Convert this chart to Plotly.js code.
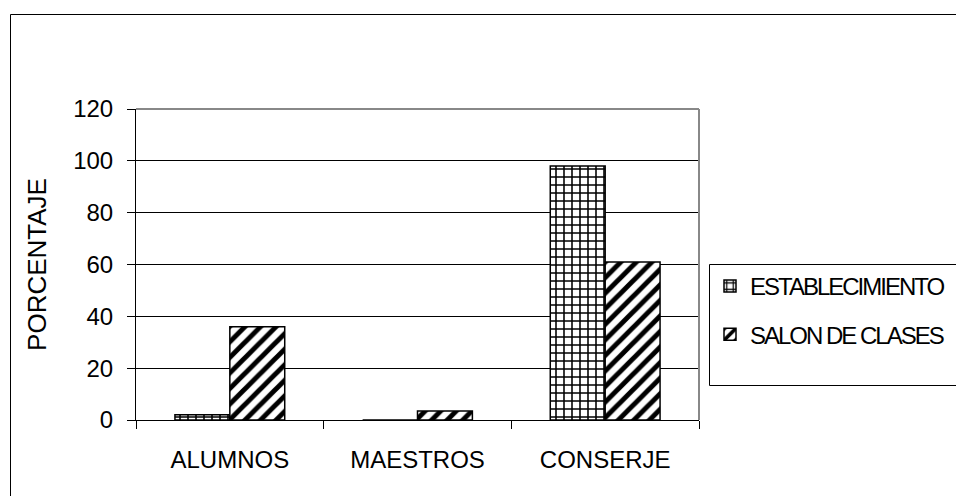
<!DOCTYPE html>
<html><head><meta charset="utf-8">
<script src="https://cdn.plot.ly/plotly-3.0.1.min.js"></script>
<style>html,body{margin:0;padding:0;background:#fff;}#chart{width:956px;height:496px;}
#chart .legendtext{letter-spacing:-2px;}</style>
</head><body><div id="chart"></div>
<script>
const categories = ['ALUMNOS', 'MAESTROS', 'CONSERJE'];
const establecimiento = [2, 0, 98];
const salonDeClases = [36, 3.5, 61];
const seriesNames = ['ESTABLECIMIENTO', 'SALON DE CLASES'];
const yTicks = [0, 20, 40, 60, 80, 100, 120];

const W = 956, H = 496;
const L = 136, R = 257, T = 109, B = 76;
const pw = W - L - R, ph = H - T - B;
const px = x => (x - L) / pw;
const py = y => 1 - (y - T) / ph;
const font = 'Liberation Sans, Arial, sans-serif';
const FS = 24;

const traces = [
  {type: 'bar', x: categories, y: establecimiento, name: seriesNames[0], legendgroup: 'a',
   marker: {color: '#fff', line: {color: '#000', width: 1.5},
     pattern: {shape: '+', fgcolor: '#000', bgcolor: '#fff', size: 8, solidity: 0.35}}},
  {type: 'bar', x: categories, y: salonDeClases, name: seriesNames[1], legendgroup: 'b',
   marker: {color: '#fff', line: {color: '#000', width: 1.5},
     pattern: {shape: '/', fgcolor: '#000', bgcolor: '#fff', size: 11, solidity: 0.45}}}
];

const layout = {
  width: W, height: H,
  margin: {l: L, r: R, t: T, b: B, autoexpand: false},
  paper_bgcolor: '#fff', plot_bgcolor: '#fff',
  font: {family: font, size: FS, color: '#000'},
  barmode: 'group', bargap: 0.415, bargroupgap: 0,
  showlegend: true,
  legend: {x: px(710), y: py(264), xanchor: 'left', yanchor: 'top',
    borderwidth: 0, bgcolor: 'rgba(0,0,0,0)',
    font: {family: font, size: FS, color: '#000'},
    tracegroupgap: 14, itemwidth: 30},
  xaxis: {showline: true, linecolor: '#000', linewidth: 1, automargin: false,
    ticks: 'outside', ticklen: 8, tickcolor: '#000', tickson: 'boundaries',
    ticklabelstandoff: 18, showgrid: false, zeroline: false,
    tickfont: {family: font, size: FS, color: '#000'}},
  yaxis: {range: [0, 120], tickvals: yTicks, showline: true, linecolor: '#000', linewidth: 1, automargin: false,
    ticks: 'outside', ticklen: 8, tickcolor: '#000', ticklabelstandoff: 9,
    showgrid: true, gridcolor: '#000', gridwidth: 1, zeroline: false,
    tickfont: {family: font, size: FS, color: '#000'},
    title: {text: 'PORCENTAJE', font: {family: font, size: 26, color: '#000'}, standoff: 19}},
  shapes: [
    {type: 'line', xref: 'paper', yref: 'paper', x0: 0, x1: 1, y0: 1, y1: 1,
     line: {color: '#888', width: 2}},
    {type: 'line', xref: 'paper', yref: 'paper', x0: 1, x1: 1, y0: 0, y1: 1,
     line: {color: '#888', width: 2}},
    {type: 'rect', xref: 'paper', yref: 'paper', x0: px(10.5), x1: px(1000), y0: py(14.5), y1: py(560),
     line: {color: '#000', width: 1}, layer: 'below'},
    {type: 'rect', xref: 'paper', yref: 'paper', x0: px(709.5), x1: px(1000), y0: py(264.5), y1: py(385.5),
     line: {color: '#000', width: 1}, fillcolor: '#fff', layer: 'below'}
  ]
};

Plotly.newPlot('chart', traces, layout, {displayModeBar: false, staticPlot: true});
</script></body></html>
